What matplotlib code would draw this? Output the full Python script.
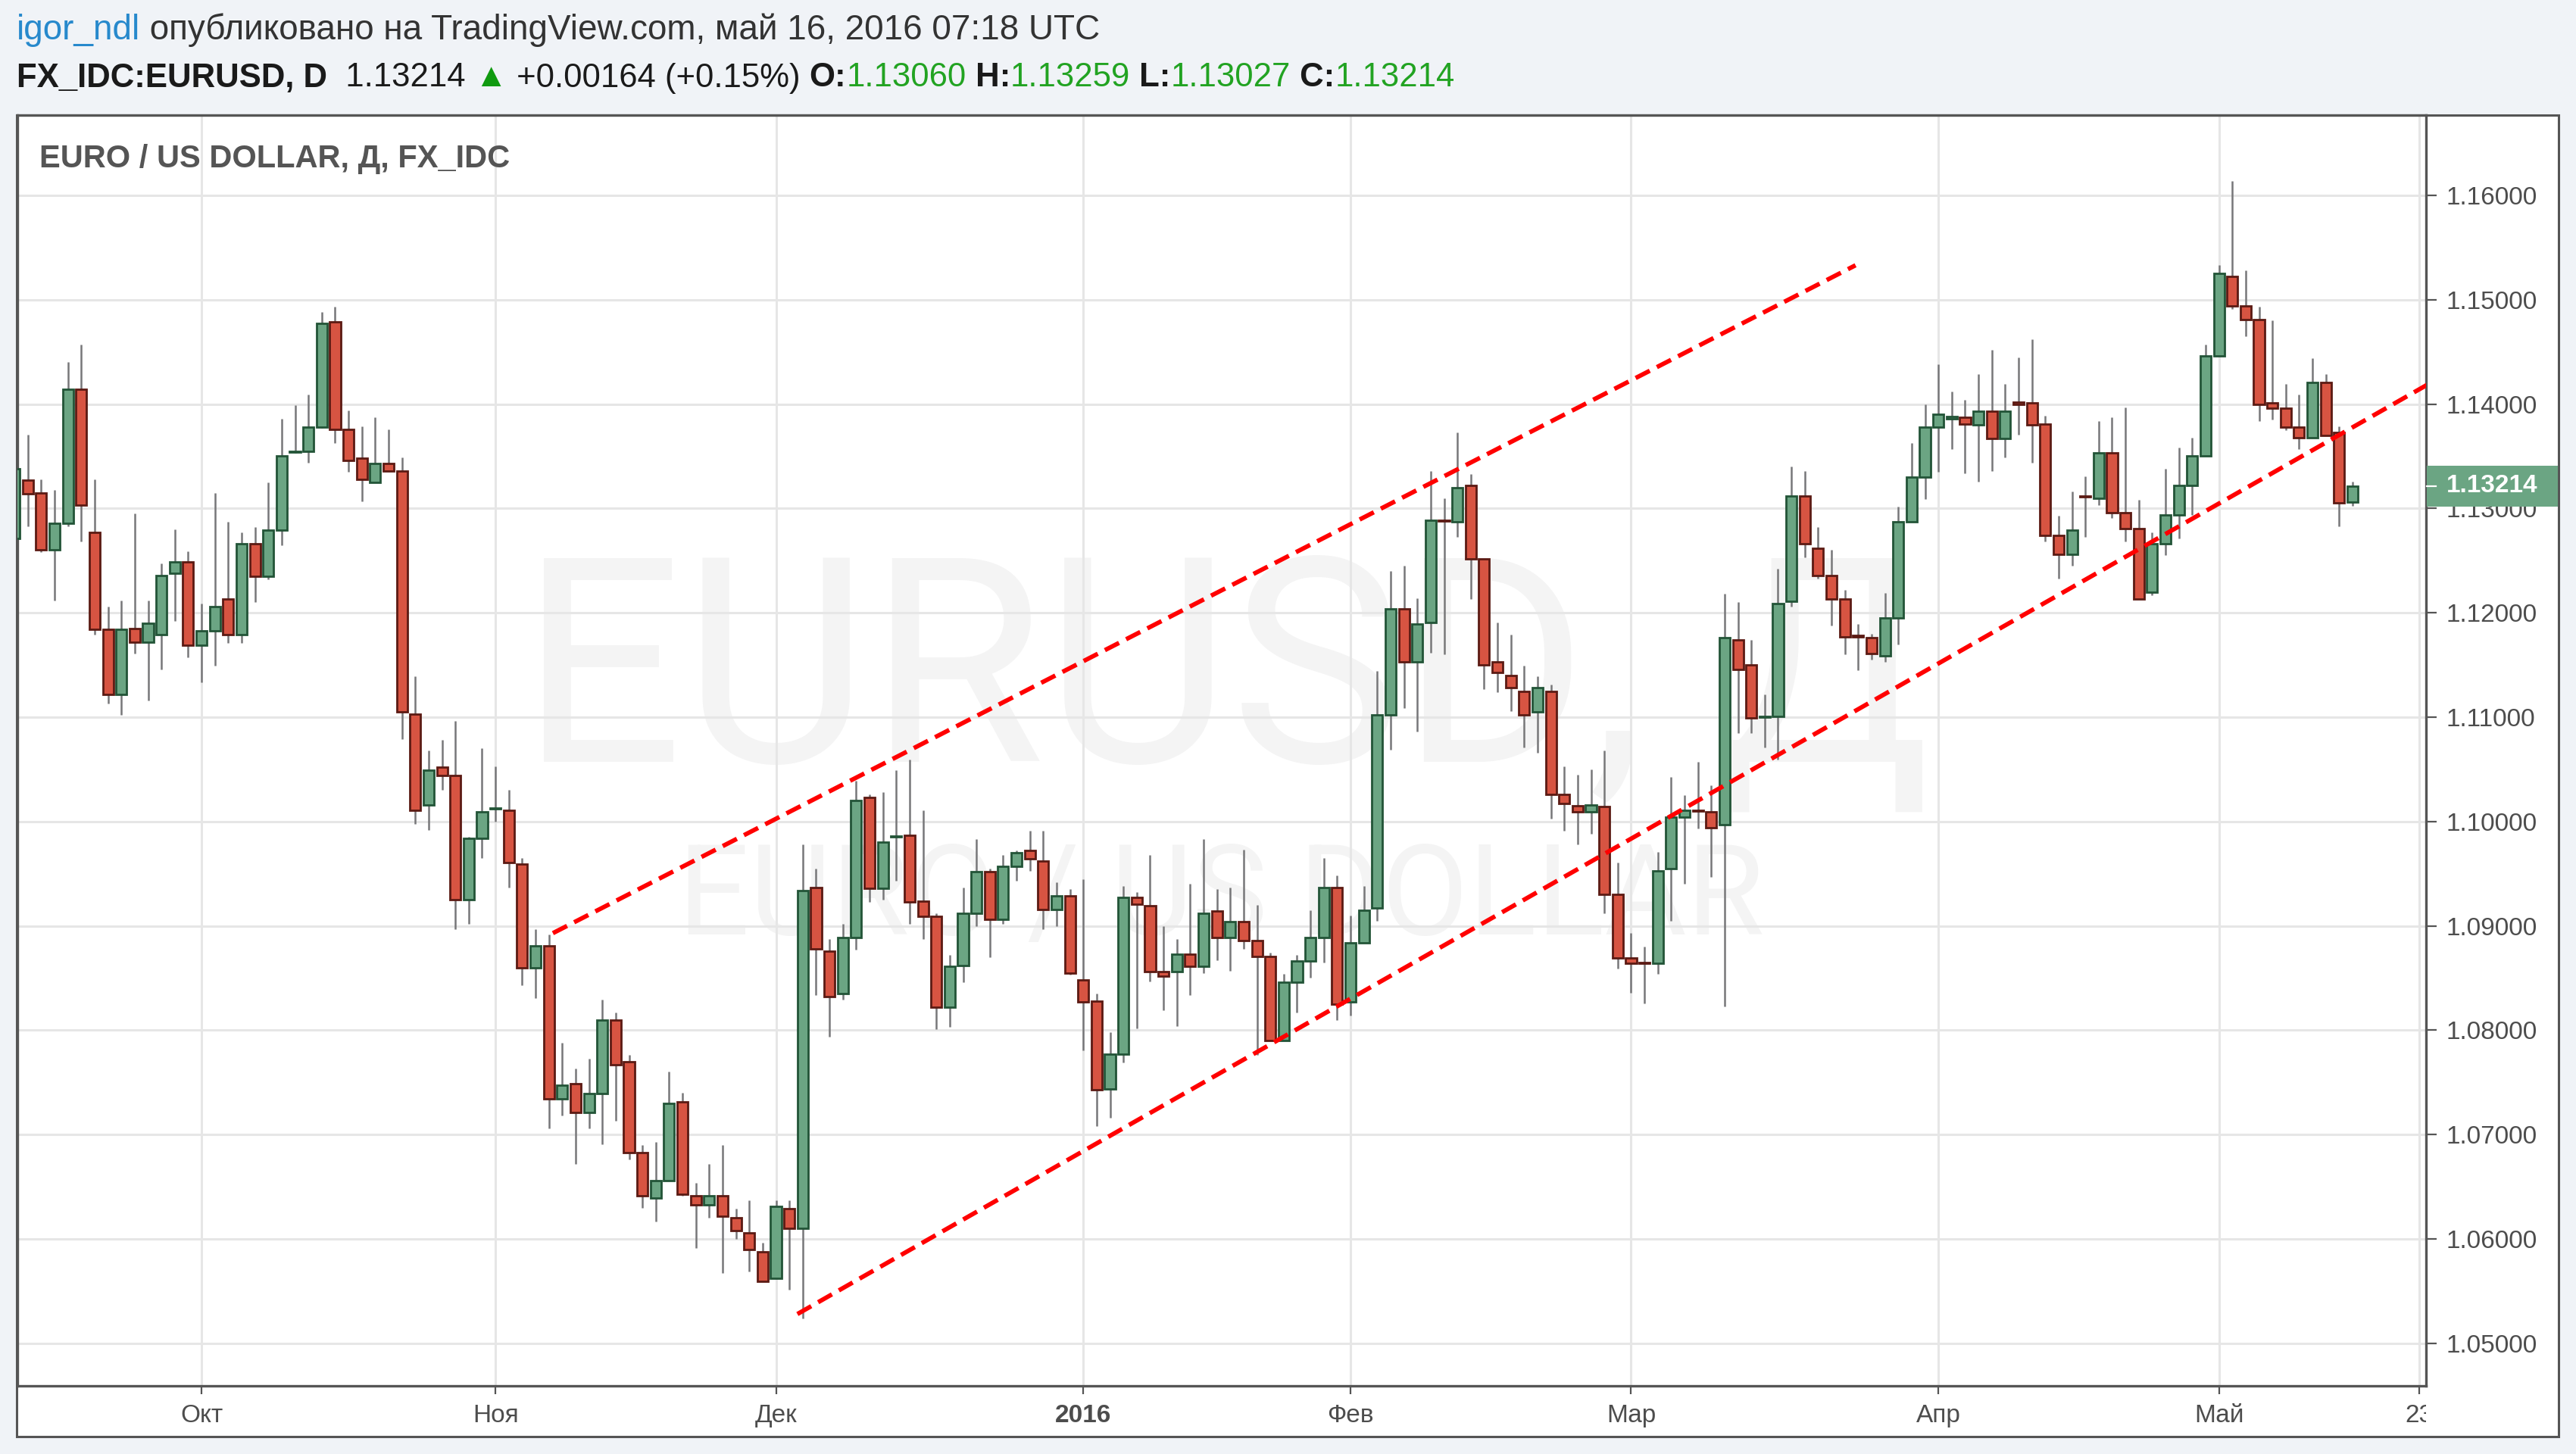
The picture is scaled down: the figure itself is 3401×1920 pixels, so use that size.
import matplotlib
matplotlib.use('Agg')
import matplotlib.pyplot as plt
import matplotlib.transforms as mtransforms
from matplotlib.patches import Rectangle
import numpy as np
import pandas as pd

plt.rcParams['font.family'] = ['Liberation Sans', 'DejaVu Sans']

# EURUSD daily, 11 Sep 2015 .. 16 May 2016
opens = [1.1271, 1.1327, 1.1315, 1.1260, 1.1286, 1.1414, 1.1277, 1.1184, 1.1122, 1.1185,
         1.1172, 1.1179, 1.1238, 1.1249, 1.1169, 1.1183, 1.1213, 1.1179, 1.1266, 1.1235,
         1.1279, 1.1354, 1.1355, 1.1378, 1.1479, 1.1376, 1.1348, 1.1325, 1.1343, 1.1336,
         1.1103, 1.1016, 1.1052, 1.1044, 1.0925, 1.0984, 1.1012, 1.1011, 1.0959, 1.0860,
         1.0881, 1.0734, 1.0749, 1.0721, 1.0739, 1.0810, 1.0770, 1.0683, 1.0639, 1.0656,
         1.0731, 1.0641, 1.0633, 1.0641, 1.0620, 1.0606, 1.0588, 1.0562, 1.0629, 1.0610,
         1.0937, 1.0876, 1.0835, 1.0889, 1.1023, 1.0936, 1.0985, 1.0987, 1.0924, 1.0909,
         1.0822, 1.0862, 1.0912, 1.0952, 1.0906, 1.0957, 1.0972, 1.0962, 1.0916, 1.0929,
         1.0848, 1.0828, 1.0744, 1.0777, 1.0927, 1.0919, 1.0856, 1.0856, 1.0873, 1.0861,
         1.0914, 1.0889, 1.0904, 1.0886, 1.0871, 1.0790, 1.0846, 1.0866, 1.0889, 1.0937,
         1.0827, 1.0884, 1.0917, 1.1102, 1.1204, 1.1153, 1.1191, 1.1289, 1.1287, 1.1322,
         1.1252, 1.1153, 1.1140, 1.1125, 1.1105, 1.1125, 1.1026, 1.1015, 1.1009, 1.1014,
         1.0930, 1.0869, 1.0865, 1.0864, 1.0955, 1.1004, 1.1011, 1.1009, 1.0997, 1.1174,
         1.1150, 1.1100, 1.1101, 1.1211, 1.1312, 1.1262, 1.1236, 1.1213, 1.1178, 1.1176,
         1.1159, 1.1195, 1.1287, 1.1330, 1.1378, 1.1386, 1.1387, 1.1380, 1.1393, 1.1367,
         1.1402, 1.1401, 1.1381, 1.1274, 1.1256, 1.1312, 1.1310, 1.1353, 1.1296, 1.1281,
         1.1220, 1.1266, 1.1294, 1.1322, 1.1350, 1.1446, 1.1522, 1.1494, 1.1481, 1.1401,
         1.1396, 1.1378, 1.1368, 1.1421, 1.1373, 1.13060]
highs = [1.1345, 1.1371, 1.1328, 1.1318, 1.1440, 1.1457, 1.1328, 1.1206, 1.1212, 1.1295,
         1.1212, 1.1247, 1.1280, 1.1259, 1.1209, 1.1315, 1.1287, 1.1277, 1.1282, 1.1325,
         1.1386, 1.1399, 1.1409, 1.1488, 1.1493, 1.1394, 1.1379, 1.1387, 1.1376, 1.1349,
         1.1139, 1.1068, 1.1078, 1.1096, 1.0985, 1.1070, 1.1053, 1.1030, 1.0965, 1.0897,
         1.0892, 1.0788, 1.0763, 1.0773, 1.0829, 1.0817, 1.0776, 1.0690, 1.0693, 1.0760,
         1.0740, 1.0654, 1.0672, 1.0690, 1.0629, 1.0637, 1.0596, 1.0637, 1.0637, 1.0978,
         1.0955, 1.0887, 1.0902, 1.1039, 1.1026, 1.1028, 1.1049, 1.1059, 1.1011, 1.0912,
         1.0872, 1.0937, 1.0983, 1.0955, 1.0968, 1.0972, 1.0991, 1.0991, 1.0942, 1.0935,
         1.0945, 1.0835, 1.0798, 1.0938, 1.0932, 1.0968, 1.0900, 1.0887, 1.0940, 1.0983,
         1.0935, 1.0937, 1.0973, 1.0920, 1.0874, 1.0854, 1.0872, 1.0915, 1.0965, 1.0948,
         1.0910, 1.0938, 1.1144, 1.1240, 1.1245, 1.1214, 1.1336, 1.1310, 1.1373, 1.1333,
         1.1252, 1.1191, 1.1179, 1.1149, 1.1139, 1.1131, 1.1053, 1.1045, 1.1050, 1.1068,
         1.0961, 1.0893, 1.0880, 1.0971, 1.1043, 1.1025, 1.1057, 1.1035, 1.1218, 1.1210,
         1.1174, 1.1122, 1.1242, 1.1340, 1.1336, 1.1282, 1.1260, 1.1222, 1.1189, 1.1180,
         1.1219, 1.1302, 1.1363, 1.1400, 1.1438, 1.1412, 1.1404, 1.1429, 1.1452, 1.1419,
         1.1445, 1.1462, 1.1389, 1.1293, 1.1316, 1.1331, 1.1384, 1.1387, 1.1397, 1.1308,
         1.1277, 1.1338, 1.1358, 1.1368, 1.1457, 1.1533, 1.1614, 1.1528, 1.1493, 1.1480,
         1.1419, 1.1409, 1.1444, 1.1429, 1.1379, 1.13259]
lows = [1.1262, 1.1283, 1.1258, 1.1212, 1.1283, 1.1268, 1.1179, 1.1113, 1.1102, 1.1161,
        1.1116, 1.1146, 1.1192, 1.1157, 1.1133, 1.1149, 1.1171, 1.1171, 1.1210, 1.1232,
        1.1265, 1.1353, 1.1344, 1.1377, 1.1363, 1.1335, 1.1307, 1.1325, 1.1336, 1.1079,
        1.0998, 1.0992, 1.1030, 1.0897, 1.0902, 1.0965, 1.1000, 1.0937, 1.0843, 1.0831,
        1.0706, 1.0718, 1.0672, 1.0706, 1.0691, 1.0713, 1.0676, 1.0630, 1.0617, 1.0656,
        1.0641, 1.0591, 1.0620, 1.0567, 1.0600, 1.0569, 1.0559, 1.0562, 1.0551, 1.0524,
        1.0834, 1.0794, 1.0829, 1.0877, 1.0923, 1.0925, 1.0943, 1.0902, 1.0887, 1.0801,
        1.0803, 1.0846, 1.0900, 1.0870, 1.0902, 1.0943, 1.0953, 1.0897, 1.0900, 1.0853,
        1.0781, 1.0708, 1.0716, 1.0769, 1.0802, 1.0847, 1.0819, 1.0804, 1.0834, 1.0855,
        1.0867, 1.0857, 1.0878, 1.0776, 1.0790, 1.0790, 1.0817, 1.0850, 1.0865, 1.0810,
        1.0814, 1.0884, 1.0905, 1.1069, 1.1109, 1.1086, 1.1162, 1.1160, 1.1273, 1.1213,
        1.1127, 1.1124, 1.1106, 1.1071, 1.1066, 1.1003, 1.0991, 1.0978, 1.0988, 1.0912,
        1.0859, 1.0836, 1.0826, 1.0854, 1.0905, 1.0940, 1.0993, 1.0947, 1.0823, 1.1085,
        1.1085, 1.1071, 1.1059, 1.1206, 1.1253, 1.1233, 1.1188, 1.1160, 1.1145, 1.1155,
        1.1153, 1.1170, 1.1287, 1.1309, 1.1335, 1.1357, 1.1334, 1.1326, 1.1336, 1.1349,
        1.1371, 1.1344, 1.1268, 1.1233, 1.1245, 1.1273, 1.1303, 1.1291, 1.1268, 1.1213,
        1.1217, 1.1255, 1.1271, 1.1294, 1.1350, 1.1446, 1.1491, 1.1465, 1.1384, 1.1385,
        1.1375, 1.1357, 1.1368, 1.1370, 1.1283, 1.13027]
closes = [1.1338, 1.1314, 1.1260, 1.1286, 1.1414, 1.1303, 1.1184, 1.1122, 1.1184, 1.1172,
          1.1190, 1.1236, 1.1249, 1.1169, 1.1183, 1.1206, 1.1179, 1.1266, 1.1235, 1.1279,
          1.1350, 1.1355, 1.1378, 1.1477, 1.1376, 1.1346, 1.1328, 1.1343, 1.1336, 1.1105,
          1.1011, 1.1049, 1.1044, 1.0925, 1.0984, 1.1009, 1.1013, 1.0961, 1.0860, 1.0881,
          1.0734, 1.0747, 1.0721, 1.0739, 1.0810, 1.0767, 1.0683, 1.0641, 1.0656, 1.0730,
          1.0643, 1.0633, 1.0641, 1.0622, 1.0608, 1.0590, 1.0559, 1.0631, 1.0610, 1.0934,
          1.0878, 1.0832, 1.0889, 1.1020, 1.0936, 1.0980, 1.0986, 1.0923, 1.0909, 1.0822,
          1.0861, 1.0912, 1.0952, 1.0906, 1.0957, 1.0970, 1.0964, 1.0916, 1.0929, 1.0855,
          1.0827, 1.0743, 1.0777, 1.0927, 1.0921, 1.0856, 1.0852, 1.0873, 1.0861, 1.0912,
          1.0889, 1.0904, 1.0886, 1.0871, 1.0790, 1.0846, 1.0866, 1.0889, 1.0937, 1.0825,
          1.0884, 1.0915, 1.1102, 1.1204, 1.1153, 1.1189, 1.1289, 1.1288, 1.1320, 1.1252,
          1.1150, 1.1143, 1.1128, 1.1102, 1.1128, 1.1026, 1.1017, 1.1009, 1.1016, 1.0930,
          1.0869, 1.0864, 1.0864, 1.0953, 1.1004, 1.1011, 1.1010, 1.0994, 1.1176, 1.1146,
          1.1099, 1.1101, 1.1209, 1.1312, 1.1266, 1.1236, 1.1213, 1.1177, 1.1177, 1.1161,
          1.1195, 1.1287, 1.1330, 1.1378, 1.1390, 1.1388, 1.1381, 1.1393, 1.1367, 1.1393,
          1.1400, 1.1380, 1.1274, 1.1256, 1.1279, 1.1311, 1.1353, 1.1296, 1.1281, 1.1213,
          1.1266, 1.1294, 1.1322, 1.1350, 1.1446, 1.1525, 1.1494, 1.1481, 1.1400, 1.1396,
          1.1378, 1.1368, 1.1421, 1.1370, 1.1305, 1.13214]

# trading days (FX_IDC skips 1 Jan); runs one week past the last bar for the "23" tick
dates = pd.bdate_range('2015-09-11', '2016-05-23')
dates = dates[dates != pd.Timestamp('2016-01-01')]
month_names = {10: 'Окт', 11: 'Ноя', 12: 'Дек', 1: '2016', 2: 'Фев', 3: 'Мар', 4: 'Апр', 5: 'Май'}

# hand drawn channel lines (bar index, price)
upper_x, upper_y = [40.3, 137.8], [1.0893, 1.1533]
lower_x, lower_y = [58.6, 181.0], [1.0528, 1.14215]

W, H = 3401, 1920
fig = plt.figure(figsize=(W / 100, H / 100), dpi=100, facecolor='#f0f3f7')

panel = Rectangle((22 / W, 1 - 1897 / H), (3378 - 22) / W, (1897 - 152) / H,
                  transform=fig.transFigure, facecolor='white', edgecolor='#555555',
                  lw=2.2, zorder=-1)
fig.patches.append(panel)

ax = fig.add_axes([23 / W, 1 - 1830 / H, (3203 - 23) / W, (1830 - 152) / H])
ax.set_facecolor('white')
ax.set_axisbelow(True)

o = np.array(opens)
hi = np.array(highs)
lo = np.array(lows)
c = np.array(closes)
x = np.arange(len(o))
up = c >= o
body_lo = np.minimum(o, c)
body_h = np.abs(c - o)

ax.vlines(x, lo, hi, color='#777779', lw=1.8, zorder=2)
ax.bar(x[up], body_h[up], bottom=body_lo[up], width=0.8, color='#6ba583',
       edgecolor='#225437', lw=2.0, zorder=3)
ax.bar(x[~up], body_h[~up], bottom=body_lo[~up], width=0.8, color='#d75442',
       edgecolor='#5b1a13', lw=2.0, zorder=3)

ax.plot(upper_x, upper_y, color='#ff0000', lw=4.2, ls=(0, (3.6, 1.8)), zorder=4)
ax.plot(lower_x, lower_y, color='#ff0000', lw=4.2, ls=(0, (3.6, 1.8)), zorder=4)

ax.set_xlim(0.22, 180.5)
ax.set_ylim(1.04592, 1.16769)

# month ticks
tick_pos, tick_lab = [], []
for i in range(1, len(dates)):
    if dates[i].month != dates[i - 1].month:
        tick_pos.append(i)
        tick_lab.append(month_names[dates[i].month])
tick_pos.append(len(dates) - 1)
tick_lab.append(str(dates[-1].day))
ax.set_xticks(tick_pos)
ax.set_xticklabels(tick_lab)
ax.tick_params(axis='x', length=8, width=1.6, color='#555555', labelsize=24,
               labelcolor='#4d4d4d', pad=9)
for t in ax.get_xticklabels():
    if t.get_text() == '2016':
        t.set_fontweight('bold')
clip = Rectangle((0, 0), 3203 / W, 1, transform=fig.transFigure, visible=False)
fig.patches.append(clip)
ax.get_xticklabels()[-1].set_clip_path(clip)

yt = np.arange(1.05, 1.1601, 0.01)
ax.set_yticks(yt)
ax.set_yticklabels([f'{v:.5f}' for v in yt])
ax.yaxis.tick_right()
ax.tick_params(axis='y', length=10, width=1.6, color='#555555', labelsize=24,
               labelcolor='#4d4d4d', pad=9)

ax.grid(True, color='#e6e6e6', lw=2.2)
for s in ax.spines.values():
    s.set_color('#555555')
    s.set_linewidth(2.4)

# last price marker on the price scale
last = closes[-1]
bt = mtransforms.blended_transform_factory(fig.transFigure, ax.transData)
box_h = 54 / 137.8 * 0.01
ax.add_patch(Rectangle((3204 / W, last - box_h / 2), (3377 - 3204) / W, box_h,
                       transform=bt, facecolor='#6ba583', edgecolor='none',
                       clip_on=False, zorder=10))
ax.plot([3204 / W, 3216 / W], [last, last], transform=bt, color='white', lw=1.6,
        clip_on=False, zorder=11)
ax.text(3230 / W, last, f'{last:.5f}', transform=bt, color='white', fontsize=24,
        fontweight='bold', va='center', ha='left', clip_on=False, zorder=12)

# watermark
ax.text(1618 / W, 1 - 902 / H, 'EURUSD, Д', transform=fig.transFigure, fontsize=272,
        color='#f4f4f4', ha='center', va='center', family='Roboto',
        zorder=0.2)
ax.text(1612 / W, 1 - 1189 / H, 'EURO / US DOLLAR', transform=fig.transFigure,
        fontsize=120, color='#f4f4f4', ha='center', va='center', family='Roboto',
        zorder=0.2)

fig.text(52 / W, 1 - 210 / H, 'EURO / US DOLLAR, Д, FX_IDC', fontsize=30,
         color='#555555', fontweight='bold', va='center', ha='left')

renderer = fig.canvas.get_renderer()


def draw_runs(x0, y0, runs, size):
    xpos = x0
    for txt, col, wt in runs:
        t = fig.text(xpos / W, 1 - y0 / H, txt, fontsize=size, color=col,
                     fontweight=wt, va='center', ha='left')
        bb = t.get_window_extent(renderer)
        xpos += bb.width


green = '#22a322'
draw_runs(22, 40, [('igor_ndl', '#2789cc', 'normal'),
                   (' опубликовано на TradingView.com, май 16, 2016 07:18 UTC', '#333333', 'normal')], 33)
draw_runs(22, 103, [('FX_IDC:EURUSD, D', '#1a1a1a', 'bold'),
                    ('  1.13214 ', '#1a1a1a', 'normal'),
                    ('▲', '#109a10', 'normal'),
                    (' +0.00164 (+0.15%) ', '#1a1a1a', 'normal'),
                    ('O:', '#1a1a1a', 'bold'), ('1.13060', green, 'normal'),
                    (' H:', '#1a1a1a', 'bold'), ('1.13259', green, 'normal'),
                    (' L:', '#1a1a1a', 'bold'), ('1.13027', green, 'normal'),
                    (' C:', '#1a1a1a', 'bold'), ('1.13214', green, 'normal')], 31.5)

fig.savefig('out.png', dpi=100, facecolor=fig.get_facecolor())
